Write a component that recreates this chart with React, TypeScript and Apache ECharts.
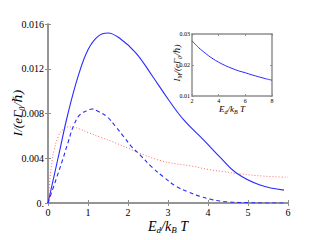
import React, { useEffect, useRef } from "react";
import * as echarts from "echarts";

const xTicks = [0, 1, 2, 3, 4, 5, 6];
const yTickLabels = ["0.", "0.004", "0.008", "0.012", "0.016"];

const solidX = [0, 0.25, 0.5, 0.75, 1.0, 1.25, 1.5, 1.8, 2.2, 2.6, 3.0, 3.4, 3.9, 4.3, 4.7, 5.3, 5.9];
const solidY = [0, 0.004, 0.008, 0.0113, 0.0137, 0.0149, 0.0152, 0.0147, 0.0134, 0.0114, 0.0093, 0.0074, 0.0056, 0.0041, 0.0027, 0.0016, 0.00115];

const dashedX = [0, 0.2, 0.36, 0.5, 0.65, 0.8, 1.0, 1.1, 1.25, 1.48, 1.7, 1.9, 2.1, 2.3, 2.6, 2.9, 3.2, 3.5, 3.8, 4.1, 4.5, 5.0, 5.5, 5.9];
const dashedY = [0, 0.0021, 0.0038, 0.0054, 0.007, 0.0079, 0.0083, 0.0084, 0.0082, 0.0077, 0.0068, 0.0059, 0.005, 0.0043, 0.0032, 0.0023, 0.0015, 0.001, 0.0006, 0.0003, 0.0001, 0.00003, 0, 0];

const dottedX = [0, 0.05, 0.1, 0.15, 0.25, 0.35, 0.5, 0.6, 0.8, 1.0, 1.3, 1.6, 2.0, 2.4, 2.8, 3.2, 3.6, 4.0, 4.4, 4.8, 5.4, 6.0];
const dottedY = [0, 0.0022, 0.0037, 0.0047, 0.0059, 0.0065, 0.0068, 0.0068, 0.0066, 0.0063, 0.0059, 0.0055, 0.0049, 0.0043, 0.0038, 0.0035, 0.0033, 0.003, 0.0028, 0.0026, 0.0024, 0.0023];

const insetX = [2, 2.5, 3, 3.5, 4, 4.5, 5, 5.5, 6, 6.5, 7, 7.5, 8];
const insetY = [0.0278, 0.0256, 0.0238, 0.0222, 0.0209, 0.0198, 0.0189, 0.0181, 0.0175, 0.0168, 0.0162, 0.0156, 0.0151];
const insetYLabels = ["0.01", "0.02", "0.03"];

const FONT = "'Liberation Serif', 'DejaVu Serif', serif";
const AXC = "#8f8f8f";

const pairs = (xs: number[], ys: number[]) => xs.map((x, i) => [x, ys[i]]);

export default function App() {
  const ref = useRef<HTMLDivElement>(null);
  useEffect(() => {
    if (!ref.current) return;
    const chart = echarts.init(ref.current, null, { renderer: "svg" });
    const axisBase = (show: boolean) => ({
      axisLine: { show: true, lineStyle: { color: AXC, width: 1.5 } },
      axisTick: { show: true, inside: true, length: 3, lineStyle: { color: AXC } },
      splitLine: { show: false },
      axisLabel: { show },
    });
    const smallTick = { show: true, inside: true, length: 2, lineStyle: { color: AXC } };
    chart.setOption({
      animation: false,
      backgroundColor: "#ffffff",
      textStyle: { fontFamily: FONT },
      grid: [
        { left: 48, top: 24, width: 240, height: 179 },
        { left: 192, top: 34, width: 80, height: 62, backgroundColor: "#fff", show: true, borderWidth: 0 },
      ],
      xAxis: [
        {
          type: "value", gridIndex: 0, min: 0, max: 6, interval: 1, position: "bottom",
          ...axisBase(true),
          axisLabel: { show: true, fontFamily: FONT, fontSize: 10, color: "#000", margin: 4, formatter: (v: number) => (xTicks.includes(v) ? String(v) : "") },
        },
        { type: "value", gridIndex: 0, min: 0, max: 6, interval: 1, position: "top", ...axisBase(false) },
        {
          type: "value", gridIndex: 1, min: 2, max: 8, interval: 2, position: "bottom",
          ...axisBase(true),
          axisTick: smallTick,
          axisLabel: { show: true, fontFamily: FONT, fontSize: 6, color: "#000", margin: 2 },
        },
        { type: "value", gridIndex: 1, min: 2, max: 8, interval: 2, position: "top", ...axisBase(false), axisTick: smallTick },
      ],
      yAxis: [
        {
          type: "value", gridIndex: 0, min: 0, max: 0.016, interval: 0.004, position: "left",
          ...axisBase(true),
          axisLabel: { show: true, fontFamily: FONT, fontSize: 10, color: "#000", margin: 4, formatter: (v: number) => yTickLabels[Math.round(v / 0.004)] ?? "" },
        },
        { type: "value", gridIndex: 0, min: 0, max: 0.016, interval: 0.004, position: "right", ...axisBase(false) },
        {
          type: "value", gridIndex: 1, min: 0.01, max: 0.03, interval: 0.01, position: "left",
          ...axisBase(true),
          axisTick: smallTick,
          axisLabel: { show: true, fontFamily: FONT, fontSize: 6, color: "#000", margin: 2, formatter: (v: number) => insetYLabels[Math.round(v / 0.01) - 1] ?? "" },
        },
        { type: "value", gridIndex: 1, min: 0.01, max: 0.03, interval: 0.01, position: "right", ...axisBase(false), axisTick: smallTick },
      ],
      series: [
        {
          type: "line", xAxisIndex: 0, yAxisIndex: 0, data: pairs(dottedX, dottedY), smooth: 0.4, showSymbol: false,
          lineStyle: { color: "#ff6a6a", width: 1, type: [1, 2] }, z: 2,
        },
        {
          type: "line", xAxisIndex: 0, yAxisIndex: 0, data: pairs(dashedX, dashedY), smooth: 0.4, showSymbol: false,
          lineStyle: { color: "#2a2aff", width: 1.1, type: [4, 3] }, z: 3,
        },
        {
          type: "line", xAxisIndex: 0, yAxisIndex: 0, data: pairs(solidX, solidY), smooth: 0.4, showSymbol: false,
          lineStyle: { color: "#2a2aff", width: 1.1 }, z: 3,
        },
        {
          type: "line", xAxisIndex: 2, yAxisIndex: 2, data: pairs(insetX, insetY), smooth: 0.4, showSymbol: false,
          lineStyle: { color: "#2a2aff", width: 1 }, z: 10,
        },
      ],
      graphic: [
        {
          type: "text", x: 168, y: 226,
          style: {
            text: "{i|E}{s|d}{i|/k}{s|B}{i| T}",
            align: "center", verticalAlign: "middle",
            rich: {
              i: { fontFamily: FONT, fontStyle: "italic", fontSize: 14, fill: "#000", lineHeight: 16, verticalAlign: "middle" },
              s: { fontFamily: FONT, fontStyle: "italic", fontSize: 9, fill: "#000", lineHeight: 16, verticalAlign: "bottom" },
            },
          },
        },
        {
          type: "text", x: 17, y: 113, rotation: Math.PI / 2,
          style: {
            text: "I/(e\u0393\u2080/\u210F)",
            align: "center", verticalAlign: "middle",
            fontFamily: FONT, fontStyle: "italic", fontSize: 13, fill: "#000",
          },
        },
        {
          type: "text", x: 232, y: 109,
          style: {
            text: "{i|E}{s|d}{i|/k}{s|B}{i| T}",
            align: "center", verticalAlign: "middle",
            rich: {
              i: { fontFamily: FONT, fontStyle: "italic", fontSize: 9, fill: "#000", lineHeight: 11, verticalAlign: "middle" },
              s: { fontFamily: FONT, fontStyle: "italic", fontSize: 6, fill: "#000", lineHeight: 11, verticalAlign: "bottom" },
            },
          },
        },
        {
          type: "text", x: 177, y: 63, rotation: Math.PI / 2,
          style: {
            text: "{i|I}{s|M}{i|/(e\u0393\u2080/\u210F)}",
            align: "center", verticalAlign: "middle",
            rich: {
              i: { fontFamily: FONT, fontStyle: "italic", fontSize: 9, fill: "#000", lineHeight: 11, verticalAlign: "middle" },
              s: { fontFamily: FONT, fontStyle: "italic", fontSize: 6, fill: "#000", lineHeight: 11, verticalAlign: "bottom" },
            },
          },
        },
      ],
    });
    return () => chart.dispose();
  }, []);
  return <div ref={ref} style={{ width: 320, height: 240, position: "absolute", left: 0, top: 0 }} />;
}
